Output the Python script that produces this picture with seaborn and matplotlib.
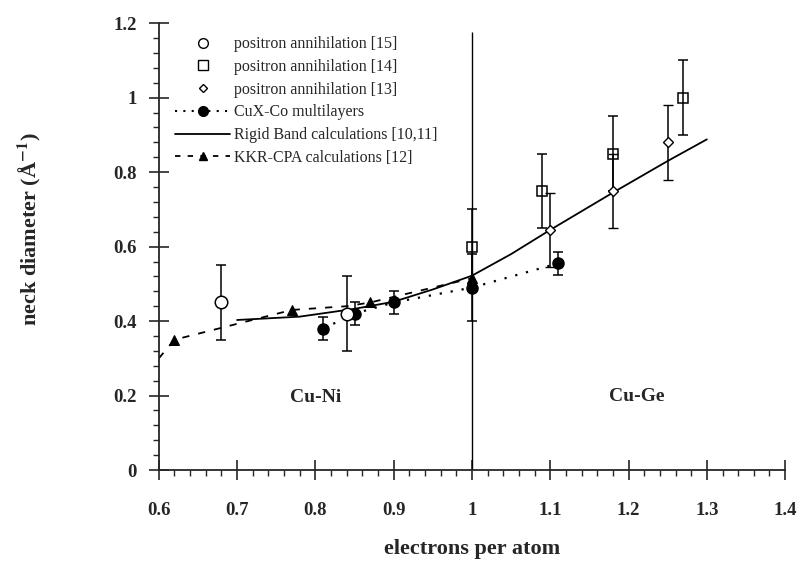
import numpy as np
import seaborn as sns
import matplotlib.pyplot as plt
from matplotlib.lines import Line2D
from matplotlib.ticker import MultipleLocator, FuncFormatter

# positron annihilation data (open markers)
circ15_x = [0.68, 0.84]
circ15_y = [0.45, 0.42]
circ15_err = [0.10, 0.10]

sq14_x = [1.00, 1.09, 1.18, 1.27]
sq14_y = [0.60, 0.75, 0.85, 1.00]
sq14_err = [0.10, 0.10, 0.10, 0.10]

dia13_x = [1.10, 1.18, 1.25]
dia13_y = [0.645, 0.75, 0.88]
dia13_err = [0.10, 0.10, 0.10]

# CuX-Co multilayers
cux_x = [0.81, 0.85, 0.90, 1.00, 1.11]
cux_y = [0.38, 0.42, 0.45, 0.49, 0.555]
cux_err = [0.03, 0.03, 0.03, 0.09, 0.03]

# Rigid band calculations
rigid_x = [0.70, 0.78, 0.85, 0.90, 0.95, 1.00, 1.05, 1.10, 1.18, 1.25, 1.30]
rigid_y = [0.403, 0.412, 0.433, 0.452, 0.485, 0.522, 0.58, 0.645, 0.745, 0.83, 0.888]

# KKR-CPA calculations
kkr_x = [0.60, 0.62, 0.77, 0.84, 0.87, 1.00]
kkr_y = [0.30, 0.35, 0.43, 0.44, 0.45, 0.515]
kkr_marks = [1, 2, 4, 5]

legend_labels = ['positron annihilation [15]', 'positron annihilation [14]',
                 'positron annihilation [13]', 'CuX-Co multilayers',
                 'Rigid Band calculations [10,11]', 'KKR-CPA calculations [12]']

sns.set_style('ticks')
plt.rcParams['font.family'] = ['Liberation Serif', 'DejaVu Serif']
plt.rcParams['mathtext.fontset'] = 'stix'

fig = plt.figure(figsize=(8.02, 5.65), dpi=100)
ax = fig.add_axes([0.198, 0.168, 0.781, 0.791])

# divider between Cu-Ni and Cu-Ge
ax.vlines(1.0, 0, 1.177, color='black', lw=1.0)

sns.lineplot(x=rigid_x, y=rigid_y, sort=False, estimator=None, color='black', lw=1.3, ax=ax)
sns.lineplot(x=kkr_x, y=kkr_y, sort=False, estimator=None, color='black', lw=1.3,
             linestyle=(0, (4, 5)), marker='^', markersize=7, markevery=kkr_marks,
             markeredgecolor='black', ax=ax)
sns.lineplot(x=cux_x, y=cux_y, sort=False, estimator=None, color='black', lw=1.6,
             linestyle=(0, (1, 4)), ax=ax)

eb = dict(ecolor='black', elinewidth=1.1, capsize=3.5, capthick=1.1, ls='none', mec='black')
ax.errorbar(cux_x, cux_y, yerr=cux_err, fmt='o', ms=8, mfc='black', **eb)
ax.errorbar(circ15_x, circ15_y, yerr=circ15_err, fmt='o', ms=9, mfc='white', mew=1.1, **eb)
ax.errorbar(sq14_x, sq14_y, yerr=sq14_err, fmt='s', ms=7, mfc='none', mew=1.1, **eb)
ax.errorbar(dia13_x, dia13_y, yerr=dia13_err, fmt='D', ms=5.5, mfc='white', mew=1.0, **eb)

ax.text(0.80, 0.195, 'Cu-Ni', fontsize=14, fontweight='bold', ha='center', va='center')
ax.text(1.21, 0.197, 'Cu-Ge', fontsize=14, fontweight='bold', ha='center', va='center')

ax.set_xlim(0.6, 1.4)
ax.set_ylim(0, 1.2)
ax.xaxis.set_major_locator(MultipleLocator(0.1))
ax.xaxis.set_minor_locator(MultipleLocator(0.02))
ax.yaxis.set_major_locator(MultipleLocator(0.2))
ax.yaxis.set_minor_locator(MultipleLocator(0.04))
fmt = FuncFormatter(lambda v, p: '%g' % round(v, 2))
ax.xaxis.set_major_formatter(fmt)
ax.yaxis.set_major_formatter(fmt)
ax.tick_params(which='major', direction='inout', length=14, width=1.2, labelsize=13.5)
ax.tick_params(which='minor', direction='out', length=4, width=1.0)
ax.tick_params(axis='x', which='major', pad=16)
ax.tick_params(axis='y', which='major', pad=9)
for lab in ax.get_xticklabels() + ax.get_yticklabels():
    lab.set_fontweight('bold')

sns.despine(ax=ax)
for s in ['left', 'bottom']:
    ax.spines[s].set_linewidth(1.3)

ax.set_xlabel('electrons per atom', fontsize=16, fontweight='bold')
ax.set_ylabel('neck diameter (Å$^{\\mathbf{-1}}$)', fontsize=16, fontweight='bold')
ax.xaxis.set_label_coords(0.5, -0.155)
ax.yaxis.set_label_coords(-0.185, 0.54)

handles = [
    Line2D([], [], ls='none', marker='o', ms=7, mfc='white', mec='black'),
    Line2D([], [], ls='none', marker='s', ms=6.5, mfc='white', mec='black'),
    Line2D([], [], ls='none', marker='D', ms=4.5, mfc='white', mec='black'),
    Line2D([], [], ls=(0, (1, 3)), lw=1.5, color='black', marker='o', ms=7, mfc='black'),
    Line2D([], [], ls='-', lw=1.3, color='black'),
    Line2D([], [], ls=(0, (3, 4)), lw=1.3, color='black', marker='^', ms=6),
]
ax.legend(handles, legend_labels, loc='upper left', bbox_to_anchor=(0.015, 0.985),
          frameon=False, fontsize=11.5, handlelength=3.5, handletextpad=0.2,
          labelspacing=0.42, borderaxespad=0)

fig.savefig('out.png', dpi=100)
